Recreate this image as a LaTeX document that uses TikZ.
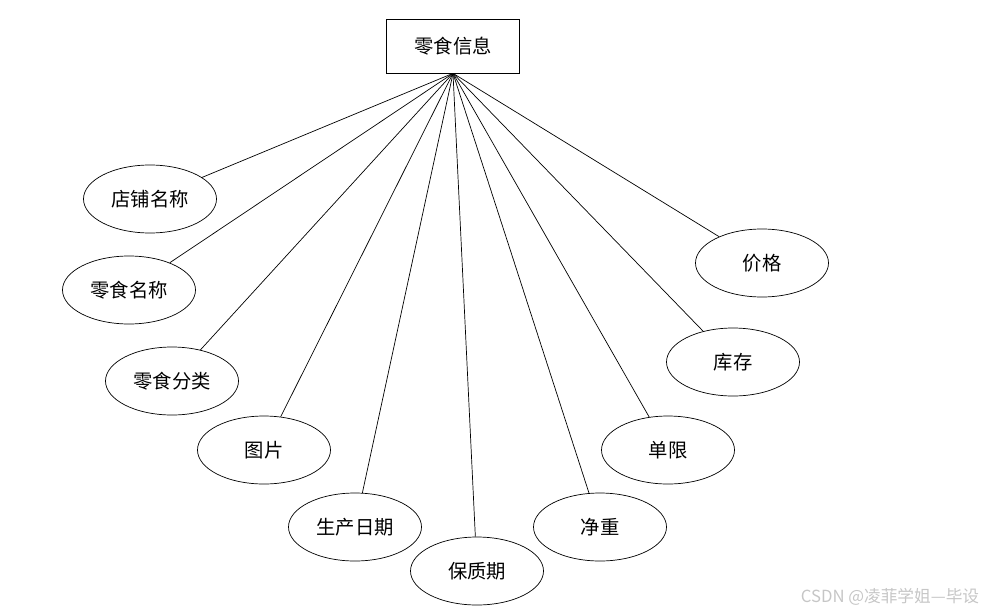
\documentclass[tikz,border=0pt]{standalone}
\usepackage{fontspec}
\newfontfamily\cjk{Noto Sans CJK SC}
\usetikzlibrary{shapes.geometric}
\tikzset{
    entity/.style={draw, rectangle, minimum width=2.66cm, minimum height=1.08cm, inner sep=0pt, font=\cjk\fontsize{11}{13}\selectfont},
    attr/.style={draw, ellipse, minimum width=2.66cm, minimum height=1.36cm, inner sep=0pt, font=\cjk\fontsize{11}{13}\selectfont},
    link/.style={thin}
}
\begin{document}
\begin{tikzpicture}
    \useasboundingbox (0,0) rectangle (19.9,-12.3);
    \node[entity] (info) at (9.06,-0.92) {零食信息};

    \node[attr] (dpmc) at (3.00,-3.98) {店铺名称};
    \node[attr] (lsmc) at (2.58,-5.80) {零食名称};
    \node[attr] (lsfl) at (3.44,-7.62) {零食分类};
    \node[attr] (tp)   at (5.28,-9.00) {图片};
    \node[attr] (scrq) at (7.10,-10.54) {生产日期};
    \node[attr] (bzq)  at (9.54,-11.42) {保质期};
    \node[attr] (jz)   at (12.00,-10.54) {净重};
    \node[attr] (dx)   at (13.36,-9.00) {单限};
    \node[attr] (kc)   at (14.66,-7.24) {库存};
    \node[attr] (jg)   at (15.24,-5.26) {价格};

    \foreach \a in {dpmc,lsmc,lsfl,tp,scrq,bzq,jz,dx,kc,jg}
        \draw[link] (info.south) -- (\a);

    \node[text=gray!45, font=\cjk\fontsize{9.5}{11}\selectfont] (wm) at (17.8,-11.94) {CSDN @凌菲学姐—毕设};
\end{tikzpicture}
\end{document}
